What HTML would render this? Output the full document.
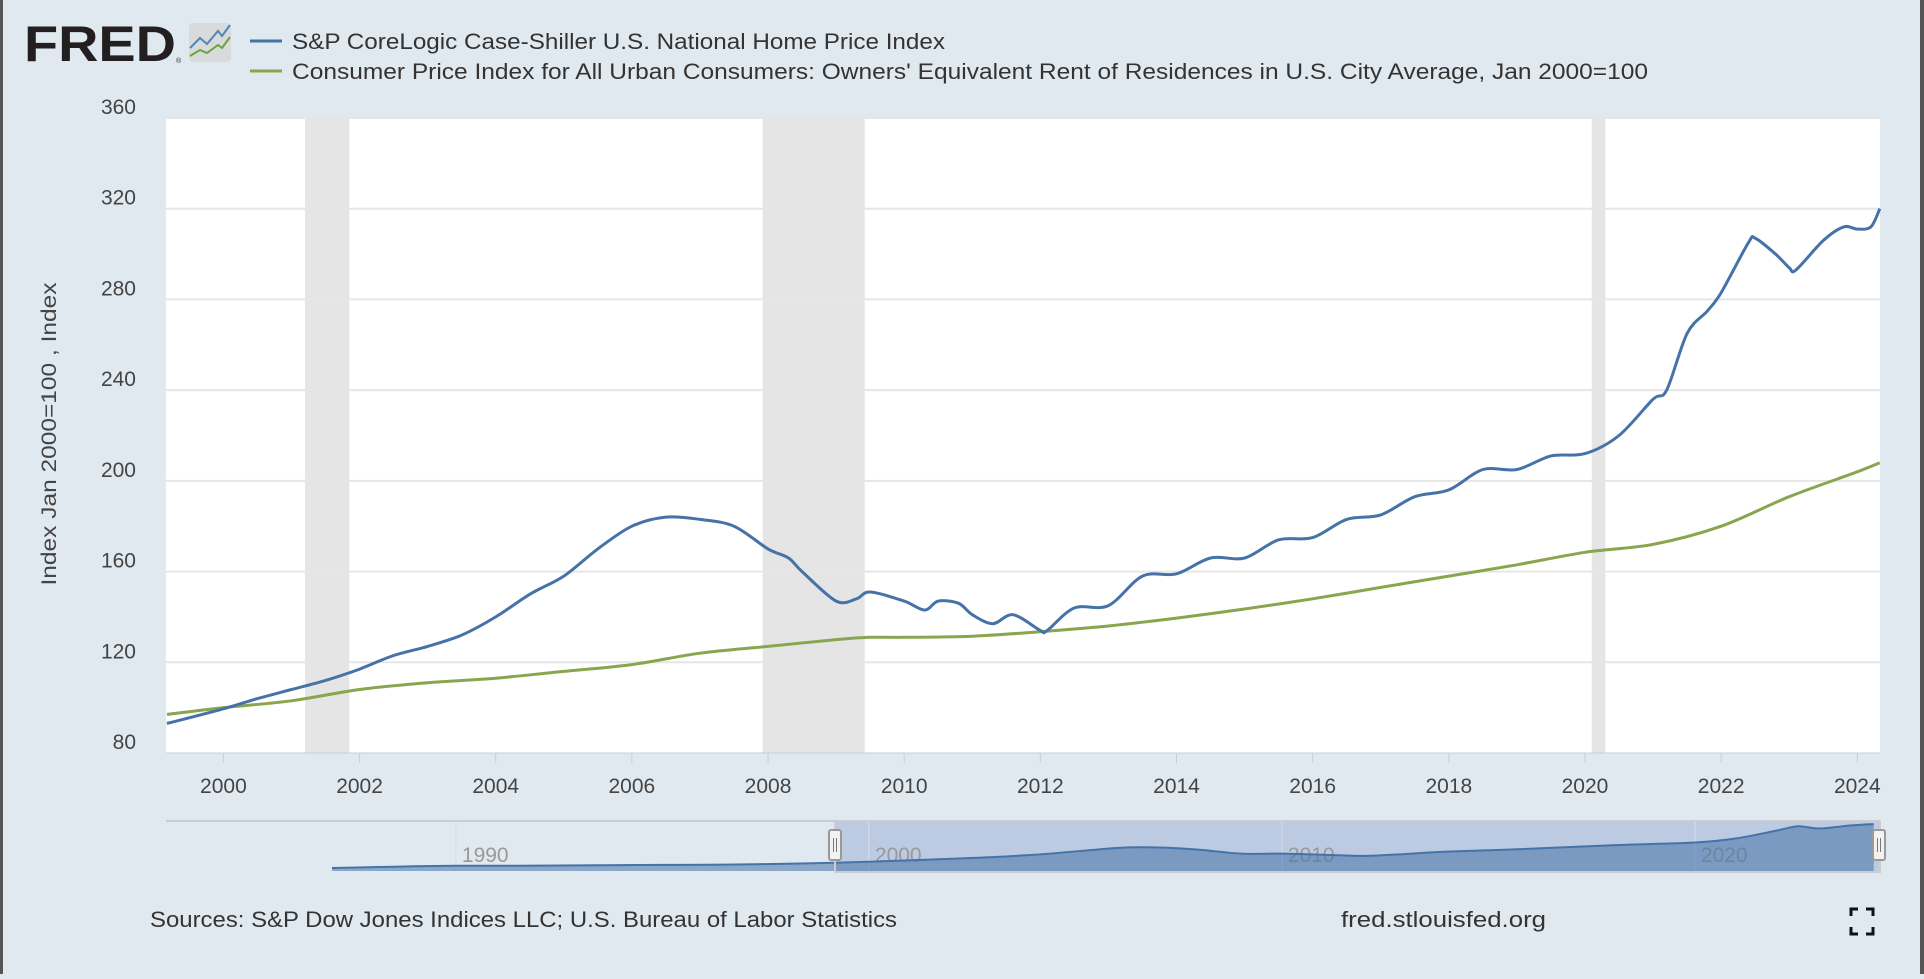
<!DOCTYPE html>
<html><head><meta charset="utf-8"><style>
html,body{margin:0;padding:0;background:#e1e9f0;}
body{width:1924px;height:974px;overflow:hidden;font-family:"Liberation Sans",sans-serif;}
svg text{font-family:"Liberation Sans",sans-serif;}
</style></head><body>
<svg id="chart" width="1924" height="974" viewBox="0 0 1924 974" xmlns="http://www.w3.org/2000/svg">
<rect x="0" y="0" width="1924" height="974" fill="#e1e9f0"/>
<rect x="0" y="0" width="3" height="974" fill="#555"/>
<rect x="1920" y="0" width="4" height="974" fill="#555"/>
<g>
<text x="24" y="61" font-size="50" font-weight="bold" fill="#231f20" textLength="152" lengthAdjust="spacingAndGlyphs">FRED</text>
<text x="176" y="63" font-size="7" fill="#231f20">®</text>
<rect x="189" y="23" width="42" height="39" rx="4" fill="#d9dadb"/>
<polyline points="190,48 200,38 207,44 218,31 222,36 230,25" fill="none" stroke="#4e87b8" stroke-width="2"/>
<polyline points="190,56 200,50 207,53 218,45 222,48 230,37" fill="none" stroke="#6aa33f" stroke-width="2"/>
</g>
<g>
<line x1="250" y1="41" x2="282" y2="41" stroke="#4572a7" stroke-width="3"/>
<text x="292" y="49" font-size="22" fill="#333" textLength="653" lengthAdjust="spacingAndGlyphs">S&amp;P CoreLogic Case-Shiller U.S. National Home Price Index</text>
<line x1="250" y1="71" x2="282" y2="71" stroke="#89a54e" stroke-width="3"/>
<text x="292" y="79" font-size="22" fill="#333" textLength="1356" lengthAdjust="spacingAndGlyphs">Consumer Price Index for All Urban Consumers: Owners' Equivalent Rent of Residences in U.S. City Average, Jan 2000=100</text>
</g>
<rect x="166" y="118" width="1714" height="635" fill="#ffffff"/>
<g id="rec"></g><g id="grid"></g><g id="series"></g><g id="axes"></g><g id="nav"></g>
<text transform="translate(56,434) rotate(-90)" text-anchor="middle" font-size="21" fill="#444" textLength="303" lengthAdjust="spacingAndGlyphs">Index Jan 2000=100 , Index</text>
<text x="150" y="927" font-size="22" fill="#333" textLength="747" lengthAdjust="spacingAndGlyphs">Sources: S&amp;P Dow Jones Indices LLC; U.S. Bureau of Labor Statistics</text>
<text x="1341" y="927" font-size="22" fill="#333" textLength="205" lengthAdjust="spacingAndGlyphs">fred.stlouisfed.org</text>
<g fill="none" stroke="#111" stroke-width="3">
<path d="M1851,916 v-7 h7 M1866,909 h7 v7 M1873,927 v7 h-7 M1858,934 h-7 v-7"/>
</g>
</svg>
<script>
const NS='http://www.w3.org/2000/svg';
const yTicks=[80,120,160,200,240,280,320,360];
const xTicks=[2000,2002,2004,2006,2008,2010,2012,2014,2016,2018,2020,2022,2024];
const recessions=[[2001.2,2001.85],[2007.92,2009.42],[2020.1,2020.3]];
const hpiYears=[1999.17,2000,2000.5,2001,2001.5,2002,2002.5,2003,2003.5,2004,2004.5,2005,2005.5,2006,2006.5,2007,2007.5,2008,2008.3,2008.5,2009,2009.3,2009.5,2010,2010.3,2010.5,2010.8,2011,2011.3,2011.6,2012,2012.1,2012.5,2013,2013.5,2014,2014.5,2015,2015.5,2016,2016.5,2017,2017.5,2018,2018.5,2019,2019.5,2020,2020.5,2021,2021.2,2021.5,2021.8,2022,2022.4,2022.5,2022.8,2023,2023.1,2023.5,2023.8,2024,2024.2,2024.33];
const hpiValues=[93,99.5,104,108,112,117,123,127,132,140,150,158,170,180,184,183,180,170,166,160,147,148,151,147,143,147,146,141,137,141,134,134,144,145,158,159,166,166,174,175,183,185,193,196,205,205,211,212,220,236,240,265,275,283,305,307,300,294,293,306,312,311,312,320];
const oerYears=[1999.17,2000,2001,2002,2003,2004,2005,2006,2007,2008,2009,2009.5,2010,2011,2012,2013,2014,2015,2016,2017,2018,2019,2020,2021,2022,2023,2024,2024.33];
const oerValues=[97,100,103,108,111,113,116,119,124,127,130,131,131,131.5,133.5,136,139.5,143.5,148,153,158,163,168.5,172,180,193,204,208];
const navYears=[1987,1988,1989,1990,1991,1992,1993,1994,1995,1996,1997,1998,1999,2000,2002,2004,2006,2007,2008,2009,2010,2011,2012,2013,2014,2016,2018,2020,2021,2022,2022.5,2023,2023.8,2024.33];
const navValues=[63,68,73,76,76,77,78,80,81,82,84,88,93,100,117,140,180,183,170,147,147,141,134,145,159,175,196,212,236,283,307,294,312,320];
const navTicks=[1990,2000,2010,2020];

const x=v=>166+(v-1999.157)*68.08;
const y=v=>753-(v-80)*(635/280);
const nx=v=>332+(v-1987)*41.3;
const ny=v=>868-(v-63)*0.171;
function mk(tag,attrs,parent){const e=document.createElementNS(NS,tag);for(const k in attrs)e.setAttribute(k,attrs[k]);document.getElementById(parent).appendChild(e);return e;}

recessions.forEach(r=>{const e=mk('rect',{x:x(r[0]),y:118,width:x(r[1])-x(r[0]),height:635,fill:'#e5e5e5'},'rec');

});
yTicks.forEach(t=>{
 if(t>80){const g=mk('line',{x1:166,x2:1880,y1:y(t),y2:y(t),stroke:'#e6e6e6','stroke-width':2},'grid');
 
 }
 const l=mk('text',{x:136,y:y(t)-4,'text-anchor':'end','font-size':21,fill:'#444'},'axes');l.textContent=t;
 
 
});
const base=mk('line',{x1:166,x2:1880,y1:753,y2:753,stroke:'#c0d0e0','stroke-width':1},'axes');


xTicks.forEach(t=>{
 const tk=mk('line',{x1:x(t),x2:x(t),y1:753,y2:763,stroke:'#c0d0e0','stroke-width':1},'axes');
 
 
 const l=mk('text',{x:x(t),y:793,'text-anchor':'middle','font-size':21,fill:'#444'},'axes');l.textContent=t;
 
 
});
function path(xs,vs,fx,fy){
 const P=xs.map((a,i)=>[fx(a),fy(vs[i])]);
 let d='M'+P[0][0].toFixed(1)+','+P[0][1].toFixed(1);
 for(let i=0;i<P.length-1;i++){
  const p0=P[Math.max(0,i-1)],p1=P[i],p2=P[i+1],p3=P[Math.min(P.length-1,i+2)];
  const t=0.16;
  const c1=[p1[0]+(p2[0]-p0[0])*t,p1[1]+(p2[1]-p0[1])*t];
  const c2=[p2[0]-(p3[0]-p1[0])*t,p2[1]-(p3[1]-p1[1])*t];
  d+=' C'+c1[0].toFixed(1)+','+c1[1].toFixed(1)+' '+c2[0].toFixed(1)+','+c2[1].toFixed(1)+' '+p2[0].toFixed(1)+','+p2[1].toFixed(1);
 }
 return d;
}
const g1=mk('path',{d:path(oerYears,oerValues,x,y),fill:'none',stroke:'#89a54e','stroke-width':3,'stroke-linejoin':'round'},'series');


const b1=mk('path',{d:path(hpiYears,hpiValues,x,y),fill:'none',stroke:'#4572a7','stroke-width':3,'stroke-linejoin':'round'},'series');



// navigator
const sel=mk('rect',{x:835,y:821,width:1045,height:51,fill:'#bccbe2'},'nav');


navTicks.forEach(t=>{
 const l=mk('line',{x1:nx(t),x2:nx(t),y1:821,y2:871,stroke:'#d8dee6','stroke-width':1},'nav');
 
 
 const tx=mk('text',{x:nx(t)+6,y:862,'font-size':21,fill:'#999'},'nav');tx.textContent=t;
 
 
});
const nd=path(navYears,navValues,nx,ny);
const area=mk('path',{d:nd+' L'+nx(2024.33)+',871 L'+nx(1987)+',871 Z',fill:'#4572a7','fill-opacity':0.55},'nav');


const nl=mk('path',{d:nd,fill:'none',stroke:'#4572a7','stroke-width':2},'nav');


const nt=mk('line',{x1:166,x2:1880,y1:821,y2:821,stroke:'#ccc','stroke-width':2},'nav');


const so=mk('path',{d:'M835,821 V872 H1880 V821',fill:'none',stroke:'#ccc','stroke-width':2},'nav');


[835,1879].forEach((hx,i)=>{
 const h=mk('rect',{x:hx-6,y:830,width:12,height:30,rx:2,fill:'#f2f2f2',stroke:'#999','stroke-width':2},'nav');
 
 
 const p=mk('path',{d:`M${hx-1.5},838 v14 M${hx+1.5},838 v14`,stroke:'#777','stroke-width':1},'nav');
 
 
});
</script>
</body></html>
